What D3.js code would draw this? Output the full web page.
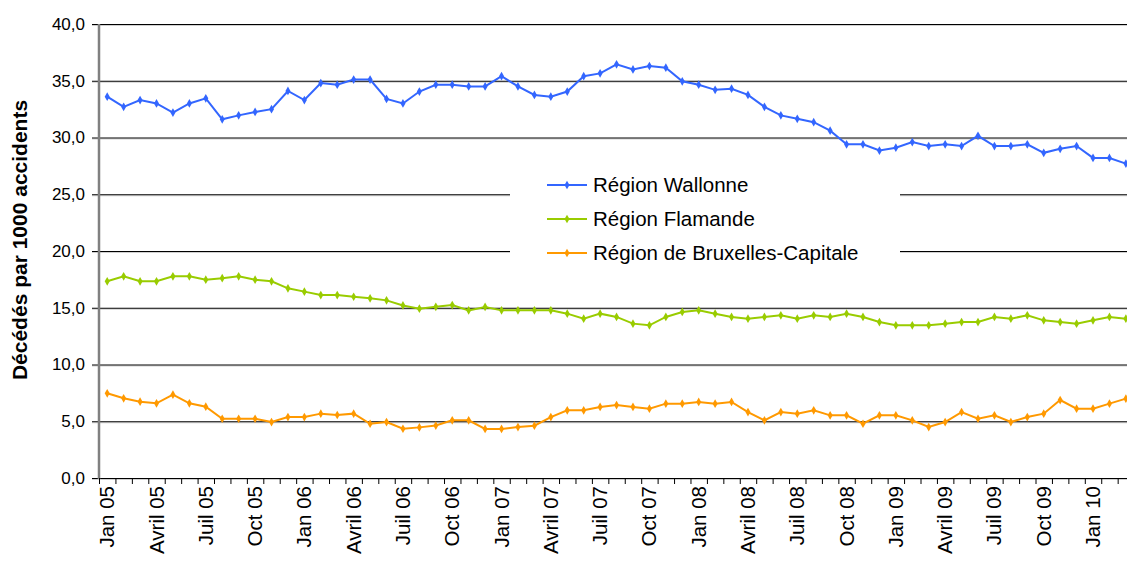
<!DOCTYPE html>
<html lang="fr">
<head>
<meta charset="utf-8">
<script src="https://cdn.jsdelivr.net/npm/d3@7"></script>
<style>
body{margin:0;background:#fff;}
svg{display:block;font-family:"Liberation Sans",Arial,sans-serif;}
</style>
</head>
<body>
<script>
// month labels, only every third one is printed on the axis
const monthNames = ["Jan","Fév","Mars","Avril","Mai","Juin","Juil","Août","Sept","Oct","Nov","Déc"];
const years = ["05","06","07","08","09","10"];
const months = [];
years.forEach(y => monthNames.forEach(m => months.push(m + " " + y)));
months.length = 63; // Jan 05 .. Mars 10

const wallonne = [33.6,32.7,33.3,33.0,32.2,33.0,33.45,31.6,31.95,32.25,32.5,34.1,33.3,34.8,34.65,35.1,35.1,33.4,33.0,34.05,
  34.65,34.65,34.5,34.5,35.4,34.5,33.75,33.6,34.05,35.4,35.65,36.45,36.0,36.3,36.15,34.95,34.65,34.2,34.3,33.75,
  32.7,31.95,31.65,31.35,30.6,29.4,29.4,28.85,29.1,29.6,29.25,29.4,29.25,30.15,29.25,29.25,29.4,28.65,29.0,29.25,
  28.2,28.2,27.7];
const flamande = [17.33,17.77,17.33,17.33,17.77,17.77,17.47,17.6,17.77,17.47,17.33,16.71,16.42,16.12,16.12,15.97,15.83,15.65,15.2,14.92,
  15.08,15.24,14.77,15.07,14.77,14.77,14.77,14.77,14.48,14.04,14.48,14.19,13.6,13.45,14.19,14.63,14.77,14.48,14.19,14.04,
  14.19,14.33,14.04,14.33,14.19,14.48,14.19,13.74,13.45,13.45,13.45,13.6,13.74,13.74,14.19,14.04,14.33,13.89,13.74,13.6,
  13.89,14.19,14.04];
const bruxelles = [7.46,7.02,6.72,6.58,7.34,6.58,6.28,5.22,5.22,5.22,4.93,5.37,5.37,5.67,5.55,5.67,4.78,4.93,4.34,4.46,
  4.62,5.08,5.08,4.32,4.32,4.49,4.61,5.37,5.96,5.96,6.26,6.43,6.26,6.11,6.55,6.55,6.7,6.55,6.7,5.81,
  5.08,5.81,5.67,5.96,5.52,5.52,4.78,5.52,5.52,5.08,4.49,4.93,5.81,5.22,5.52,4.93,5.37,5.67,6.87,6.11,
  6.11,6.55,6.99];
const seriesNames = ["Région Wallonne","Région Flamande","Région de Bruxelles-Capitale"];
const seriesColors = ["#3366ff","#99cc00","#ff9900"];
const yTicks = [0,5,10,15,20,25,30,35,40];

const W = 1127, H = 561;
const plotLeft = 99, plotTop = 24, plotBottom = 478;
const step = 16.43;

const svg = d3.select("body").append("svg").attr("width", W).attr("height", H);

const x = d3.scaleBand().domain(months).range([plotLeft, plotLeft + months.length * step]);
const y = d3.scaleLinear().domain([0, 40]).range([plotBottom, plotTop]);
const fmt = v => d3.format(".1f")(v).replace(".", ",");

// gridlines with their faint shadow
const grid = svg.append("g");
yTicks.forEach(t => {
  grid.append("line").attr("x1", plotLeft - 7).attr("x2", W)
    .attr("y1", y(t) + 1.5).attr("y2", y(t) + 1.5).attr("stroke", "#d0d0d0").attr("stroke-width", 1);
  grid.append("line").attr("x1", plotLeft - 7).attr("x2", W)
    .attr("y1", y(t) + 0.5).attr("y2", y(t) + 0.5).attr("stroke", "#000").attr("stroke-width", 1);
});

// y axis
const yAxis = svg.append("g").attr("transform", `translate(${plotLeft},0)`)
  .call(d3.axisLeft(y).tickValues(yTicks).tickFormat(fmt).tickSize(7).tickPadding(7));
yAxis.select(".domain").remove();
yAxis.selectAll(".tick line").remove();
yAxis.selectAll("text").attr("font-size", 17).attr("fill", "#000").attr("font-family", null);
svg.append("line").attr("x1", plotLeft).attr("x2", plotLeft).attr("y1", plotTop).attr("y2", plotBottom + 1)
  .attr("stroke", "#808080").attr("stroke-width", 2.5);

// x axis: tick marks at month boundaries, labels on every third month
const xg = svg.append("g");
months.forEach((m, i) => {
  xg.append("line").attr("x1", x(m) + 0.5).attr("x2", x(m) + 0.5)
    .attr("y1", plotBottom).attr("y2", plotBottom + 6).attr("stroke", "#000");
  if (i % 3 === 0) {
    const cx = x(m) + x.bandwidth() / 2;
    xg.append("text").attr("transform", `translate(${cx + 7},${plotBottom + 8}) rotate(-90)`)
      .attr("text-anchor", "end").attr("font-size", 20.5).text(m);
  }
});

svg.append("text")
  .attr("transform", `translate(27,240) rotate(-90)`)
  .attr("text-anchor", "middle").attr("font-size", 21).attr("font-weight", "bold")
  .text("Décédés par 1000 accidents");

// legend box sits over the gridlines
const lg = svg.append("g");
lg.append("rect").attr("x", 510).attr("y", 168).attr("width", 390).attr("height", 100).attr("fill", "#fff");

const line = d3.line().x((d, i) => x(months[i]) + x.bandwidth() / 2).y(d => y(d));
const diamond = d3.symbol().type(d3.symbolDiamond).size(22);

[wallonne, flamande, bruxelles].forEach((vals, k) => {
  const g = svg.append("g");
  g.append("path").datum(vals).attr("d", line).attr("fill", "none")
    .attr("stroke", seriesColors[k]).attr("stroke-width", 2);
  g.selectAll("path.m").data(vals).join("path").attr("class", "m")
    .attr("d", diamond)
    .attr("transform", (d, i) => `translate(${x(months[i]) + x.bandwidth() / 2},${y(d)})`)
    .attr("fill", seriesColors[k]);

  const ly = 185 + k * 34;
  lg.append("line").attr("x1", 547).attr("x2", 587).attr("y1", ly).attr("y2", ly)
    .attr("stroke", seriesColors[k]).attr("stroke-width", 2);
  lg.append("path").attr("d", diamond).attr("transform", `translate(567,${ly})`).attr("fill", seriesColors[k]);
  lg.append("text").attr("x", 593).attr("y", ly + 7).attr("font-size", 20.5).text(seriesNames[k]);
});
</script>
</body>
</html>
